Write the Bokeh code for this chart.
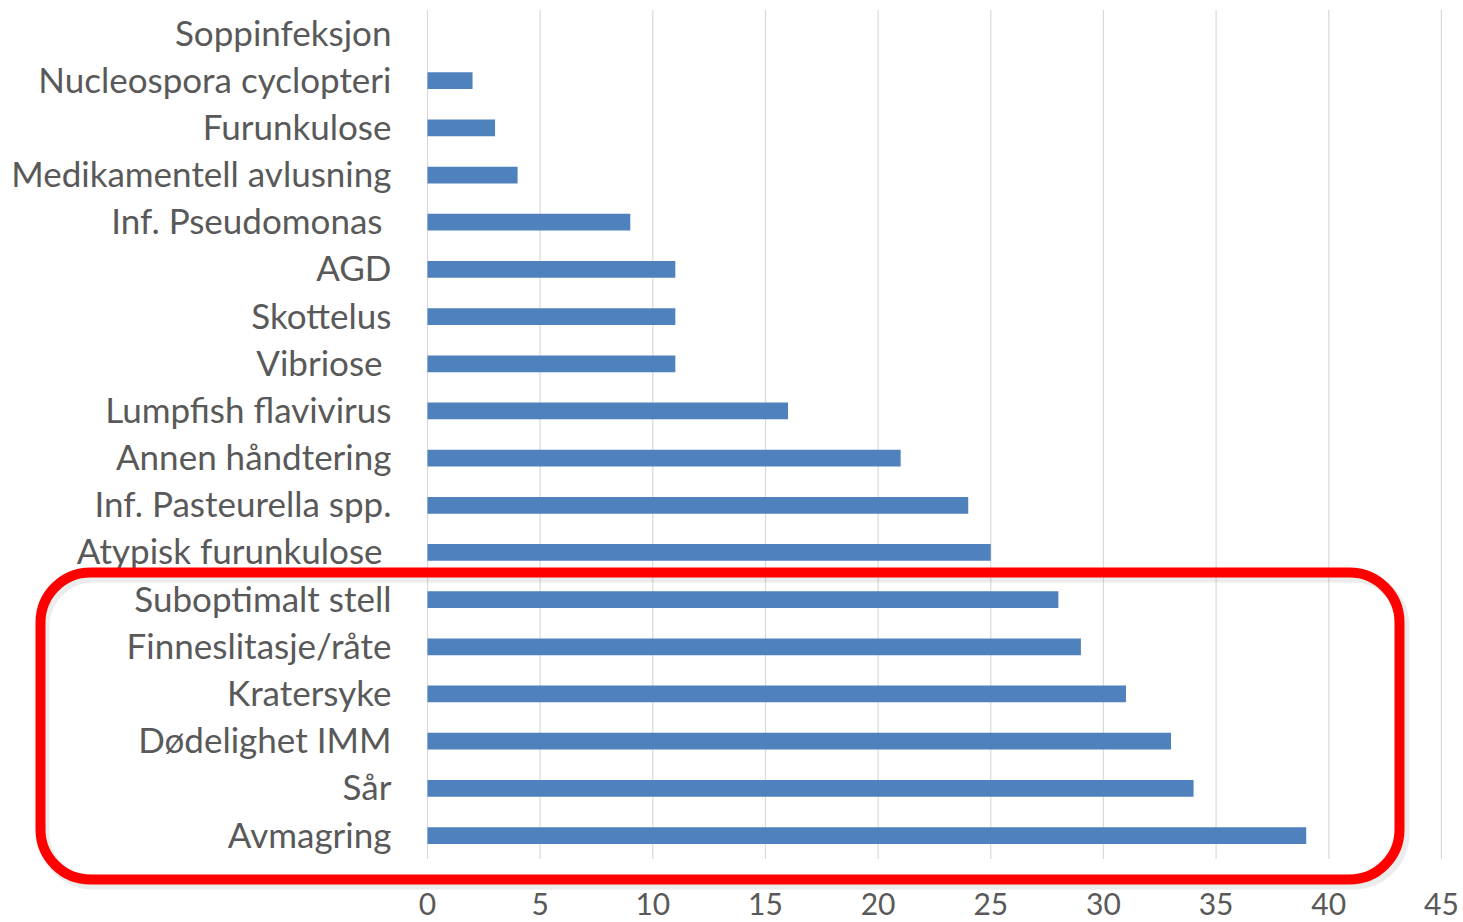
from bokeh.plotting import figure
from bokeh.models import Range1d, BoxAnnotation, ColumnDataSource
from bokeh.core.properties import value
from bokeh.embed import file_html
from bokeh.resources import INLINE

# categories from top to bottom
categories = [
    "Soppinfeksjon",
    "Nucleospora cyclopteri",
    "Furunkulose",
    "Medikamentell avlusning",
    "Inf. Pseudomonas ",
    "AGD",
    "Skottelus",
    "Vibriose ",
    "Lumpfish flavivirus",
    "Annen håndtering",
    "Inf. Pasteurella spp.",
    "Atypisk furunkulose ",
    "Suboptimalt stell",
    "Finneslitasje/råte",
    "Kratersyke",
    "Dødelighet IMM",
    "Sår",
    "Avmagring",
]
values = [0, 2, 3, 4, 9, 11, 11, 11, 16, 21, 24, 25, 28, 29, 31, 33, 34, 39]
x_ticks = [0, 5, 10, 15, 20, 25, 30, 35, 40, 45]
x_tick_labels = [str(t) for t in x_ticks]

FONT = "Lato"
TEXT = "#595959"
GRID = "#d9d9d9"
BAR = "#4f81bd"

n = len(categories)
pos = list(range(n - 1, -1, -1))  # top category gets the highest position

W, H = 1463, 922
p = figure(
    width=W, height=H,
    x_range=Range1d(-18.95, 45.98),
    y_range=Range1d(-1.844, 17.70),
    min_border=0, min_border_left=0, min_border_right=0,
    min_border_top=0, min_border_bottom=0,
    output_backend="svg", toolbar_location=None,
)
p.xaxis.visible = False
p.yaxis.visible = False
p.xgrid.visible = False
p.ygrid.visible = False
p.outline_line_color = None
p.background_fill_color = "white"
p.border_fill_color = "white"

# vertical gridlines (the one at 0 acts as the category axis line)
grid_src = ColumnDataSource(dict(x=x_ticks, lab=x_tick_labels))
p.segment(x0="x", y0=-0.5, x1="x", y1=17.5, source=grid_src,
          line_color=GRID, line_width=1.2)

# bars
bar_src = ColumnDataSource(dict(y=pos, v=values, cat=categories))
p.hbar(y="y", right="v", left=0, height=0.355, source=bar_src,
       fill_color=BAR, line_color=None)

# category labels
p.text(x=0, y="y", text="cat", source=bar_src, x_offset=-36, y_offset=-2,
       text_align="right", text_baseline="middle",
       text_font=value(FONT), text_font_size="35px", text_color=TEXT)

# x tick labels
p.text(x="x", y=-0.5, text="lab", source=grid_src, y_offset=45,
       text_align="center", text_baseline="middle",
       text_font=value(FONT), text_font_size="30px", text_color=TEXT)

# highlight box with soft shadow
shadow = BoxAnnotation(
    left=43, right=1403, top=576, bottom=883,
    left_units="canvas", right_units="canvas", top_units="canvas", bottom_units="canvas",
    fill_alpha=0, line_color="#808080", line_alpha=0.15, line_width=12, border_radius=50,
)
p.add_layout(shadow)
box = BoxAnnotation(
    left=40, right=1399, top=572, bottom=879,
    left_units="canvas", right_units="canvas", top_units="canvas", bottom_units="canvas",
    fill_alpha=0, line_color="#ff0000", line_alpha=1.0, line_width=10, border_radius=50,
)
p.add_layout(box)

open("out.html", "w").write(file_html(p, INLINE))
